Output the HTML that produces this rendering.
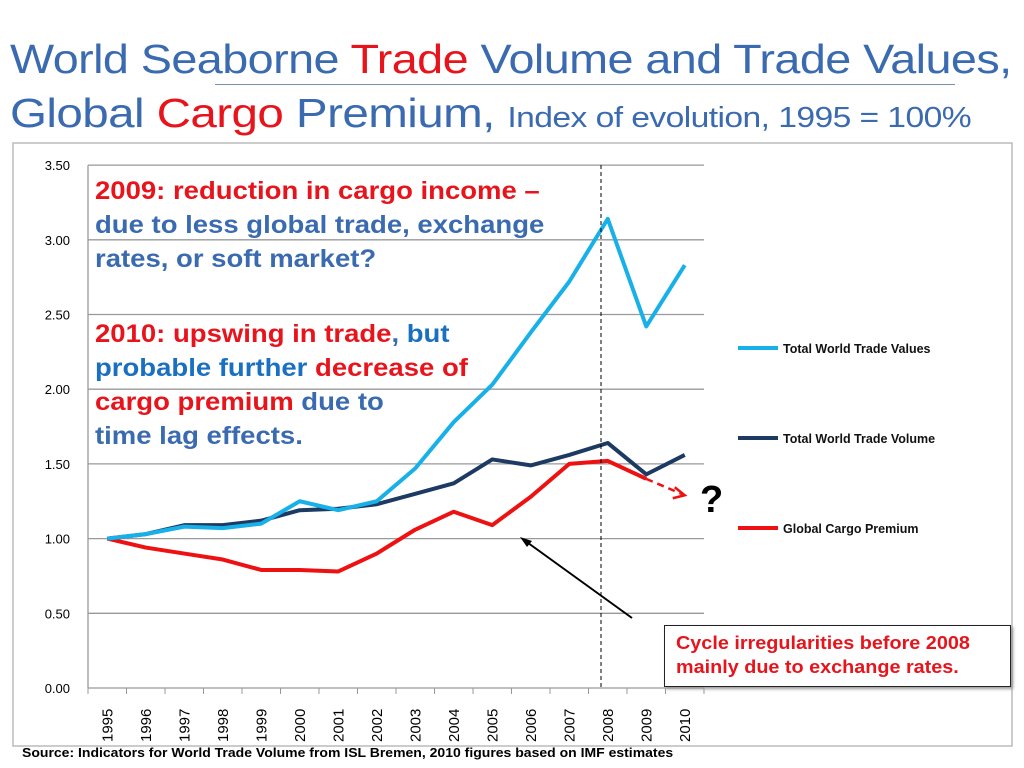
<!DOCTYPE html>
<html><head><meta charset="utf-8"><style>
body{margin:0;width:1024px;height:768px;background:#fff;overflow:hidden;font-family:"Liberation Sans","DejaVu Sans",sans-serif;}
.t{position:absolute;white-space:nowrap;transform-origin:0 0}
</style></head><body>
<div class="t" style="left:10px;top:36px;font-size:41px;color:#3A6AB0;letter-spacing:-0.5px;transform:scaleX(1.14)">World Seaborne <span style="color:#E8141C">Trade</span> Volume and Trade Values,</div>
<div style="position:absolute;left:215px;top:84px;width:740px;height:1px;background:#7a8fb0"></div>
<div class="t" style="left:10px;top:90px;font-size:41px;color:#3A6AB0;letter-spacing:-0.5px;transform:scaleX(1.16)">Global <span style="color:#E8141C">Cargo</span> Premium, <span style="font-size:29px">Index of evolution, 1995 = 100%</span></div>
<svg width="1024" height="768" style="position:absolute;left:0;top:0">
<rect x="13" y="143" width="999" height="603" fill="none" stroke="#bbb" stroke-width="1.5"/>
<g id="grid"></g><g id="axes"></g><g id="series"></g>
<line x1="601" y1="165" x2="601" y2="690" stroke="#000" stroke-width="1" stroke-dasharray="4,3"/>
<line x1="632" y1="618" x2="524" y2="540" stroke="#000" stroke-width="2"/>
<polygon points="520,537 532,541 527,547" fill="#000"/>
<text x="700" y="512" font-size="38" font-weight="bold" font-family="Liberation Sans">?</text>
<g font-size="12.5" font-weight="bold" fill="#111">
<line x1="738" y1="348" x2="778" y2="348" stroke="#18B0E8" stroke-width="4"/>
<text x="783" y="353">Total World Trade Values</text>
<line x1="738" y1="438" x2="778" y2="438" stroke="#1C3A62" stroke-width="4"/>
<text x="783" y="443">Total World Trade Volume</text>
<line x1="738" y1="528" x2="778" y2="528" stroke="#EE1111" stroke-width="4"/>
<text x="783" y="533">Global Cargo Premium</text>
</g>
</svg>
<div class="t" style="left:95px;top:174px;font-size:25px;font-weight:bold;line-height:34px;color:#3A6AB0;transform:scaleX(1.1)"><span style="color:#E8141C">2009: reduction in cargo income –</span><br>due to less global trade, exchange<br>rates, or soft market?</div>
<div class="t" style="left:95px;top:317px;font-size:25px;font-weight:bold;line-height:34px;color:#3A6AB0;transform:scaleX(1.1)"><span style="color:#E8141C">2010: upswing in trade</span>, <span style="color:#1A70C0">but</span><br><span style="color:#1A70C0">probable further</span> <span style="color:#E8141C">decrease of</span><br><span style="color:#E8141C">cargo premium</span> due to<br>time lag effects.</div>
<div style="position:absolute;left:664px;top:625px;width:345px;height:60px;border:1.5px solid #222;box-shadow:2px 2px 3px #999;background:#fff"></div>
<div class="t" style="left:676px;top:631px;font-size:18px;font-weight:bold;line-height:24px;color:#E8141C;transform:scaleX(1.1)">Cycle irregularities before 2008<br>mainly due to exchange rates.</div>
<div class="t" style="left:22px;top:746px;font-size:12.5px;font-weight:bold;color:#000;transform:scaleX(1.12)">Source: Indicators for World Trade Volume from ISL Bremen, 2010 figures based on IMF estimates</div>
<script>
const years=["1995","1996","1997","1998","1999","2000","2001","2002","2003","2004","2005","2006","2007","2008","2009","2010"];
const yTicks=[0,0.5,1,1.5,2,2.5,3,3.5];
const tradeValues=[1.00,1.03,1.08,1.07,1.10,1.25,1.19,1.25,1.47,1.78,2.03,2.38,2.72,3.14,2.42,2.83];
const tradeVolume=[1.00,1.03,1.09,1.09,1.12,1.19,1.20,1.23,1.30,1.37,1.53,1.49,1.56,1.64,1.43,1.56];
const cargoPremium=[1.00,0.94,0.90,0.86,0.79,0.79,0.78,0.90,1.06,1.18,1.09,1.28,1.50,1.52,1.40];
const premiumForecast=[1.40,1.29];
const NS="http://www.w3.org/2000/svg";
const X0=88,STEP=38.5,Y0=688,YS=149.4;
const xPos=i=>X0+STEP*(i+0.5);
const yPos=v=>Y0-v*YS;
function mk(t,a,p){const e=document.createElementNS(NS,t);for(const k in a)e.setAttribute(k,a[k]);p.appendChild(e);return e;}
const grid=document.getElementById('grid'),axes=document.getElementById('axes'),ser=document.getElementById('series');
yTicks.forEach(v=>{
 const y=yPos(v);
 if(v>0){const l=mk('line',{x1:X0,x2:704,y1:y,y2:y,stroke:'#999','stroke-width':1.3},grid);
 
 }
 const t=mk('text',{x:70,y:y+5,'font-size':13,'text-anchor':'end'},axes);t.textContent=v.toFixed(2);
 
 
});
mk('line',{x1:X0,x2:X0,y1:yPos(3.5),y2:Y0,stroke:'#999','stroke-width':1.3},axes);
mk('line',{x1:X0,x2:704,y1:Y0,y2:Y0,stroke:'#999','stroke-width':1.3},axes);
for(let i=0;i<=years.length;i++)mk('line',{x1:X0+STEP*i,x2:X0+STEP*i,y1:Y0,y2:Y0+6,stroke:'#999'},axes);
years.forEach((yr,i)=>{
 const x=xPos(i)+5,y=742;
 const t=mk('text',{x:x,y:y,'font-size':15,transform:`rotate(-90 ${x} ${y})`},axes);t.textContent=yr;
 
 
});
function line(data,color,name,off,dash){
 const p=mk('polyline',{points:data.map((v,i)=>xPos(i+off)+','+yPos(v)).join(' '),fill:'none',stroke:color,'stroke-width':dash?2.5:4,'stroke-linejoin':'round'},ser);
 if(dash)p.setAttribute('stroke-dasharray','7,5');
 
 
 return p;
}
line(cargoPremium,'#EE1111','series-cargo-premium',0);
line(tradeVolume,'#1C3A62','series-trade-volume',0);
line(tradeValues,'#18B0E8','series-trade-values',0);
line(premiumForecast,'#EE1111','premium-forecast',14,true);
const ex=xPos(15),ey=yPos(premiumForecast[1]);
const ah=mk('polyline',{points:`${ex-10},${ey-8} ${ex},${ey} ${ex-12},${ey+3}`,fill:'none',stroke:'#EE1111','stroke-width':2.5},ser);


</script>
</body></html>
